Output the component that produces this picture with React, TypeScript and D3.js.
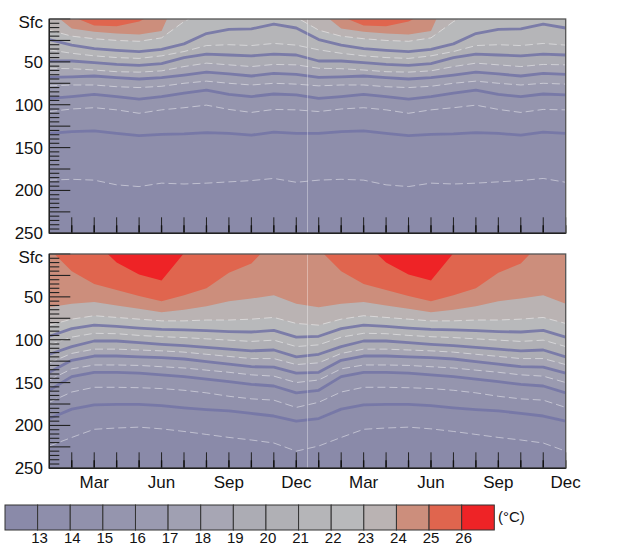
import React from "react";
import * as d3 from "d3";

// isotherm levels (°C) and the colour of each band (below 13 ... above 26)
const levels = [13, 14, 15, 16, 17, 18, 19, 20, 21, 22, 23, 24, 25, 26];
const bandColors = [
  "#8a8aa9", "#8e8eab", "#9191ac", "#9595ae", "#9a9ab0", "#a0a0b2", "#a7a6b4",
  "#acacb4", "#b0b0b5", "#b5b5b8", "#b8b9bb", "#bab3b3", "#cc8e7c", "#e0654e", "#ee2326",
];
const depthTicks = [0, 50, 100, 150, 200, 250];
const monthLabels = ["Mar", "Jun", "Sep", "Dec", "Mar", "Jun", "Sep", "Dec"];
const monthLabelIdx = [2, 5, 8, 11, 14, 17, 20, 23];

// depth (m) of each isotherm, Jan..Dec (negative = above the surface)
const upperDepths = [
  [188, 187, 188, 193.5, 195.5, 191.5, 192.5, 191.5, 190, 188.5, 186, 190.5],
  [133.5, 131.5, 130.5, 133.5, 136, 134.5, 134, 132.5, 133.5, 135.5, 132, 133.5],
  [108, 105, 103.5, 106, 110, 106, 103.5, 100.5, 105.5, 109, 105.5, 106],
  [92.5, 90.5, 88, 90.5, 93.5, 90.5, 86.5, 83, 88, 90.5, 87.5, 88.5],
  [78, 77, 77, 79, 80, 78.5, 75, 72.5, 75, 77, 75, 76],
  [68, 67.5, 66.5, 68.5, 70, 68.5, 65.5, 62, 64, 66.5, 63.5, 64.5],
  [57.5, 58, 59.5, 61.5, 62, 60.5, 55.5, 51.5, 53.5, 55.5, 53, 53.5],
  [49, 49, 51, 53, 54, 52, 45, 41, 42, 43, 41, 42],
  [36, 40, 43, 45, 46, 43, 38, 31, 30, 31, 28.5, 30.5],
  [24, 30.5, 34.5, 36.5, 38, 35.5, 29, 17, 12, 11.5, 6, 10.5],
  [13, 20, 23, 25, 26, 22, 3, -10, -15, -15, -15, -2],
  [-10, 11, 15, 17, 18, 14, -44, -50, -50, -50, -50, -30],
  [-20, -3, 7.5, 8.5, 3, -10, -30, -40, -40, -40, -40, -30],
  [-80, -80, -80, -80, -80, -80, -80, -80, -80, -80, -80, -80],
];
const lowerDepths = [
  [224, 214, 204.5, 203, 202, 204, 207, 210.5, 214, 217, 220.5, 230],
  [192, 181, 176, 175.5, 175.5, 177, 179.5, 181.5, 183, 186, 189, 195],
  [173, 161, 155.5, 155.5, 156, 157, 159, 162, 166, 169, 170.5, 179],
  [159, 143, 138, 138, 139, 141, 143, 146, 149, 152, 154, 162],
  [147, 134, 129.5, 129.5, 130, 131.5, 133, 135.5, 138, 141, 142.5, 150],
  [138, 124, 119, 119, 120, 121, 122.5, 125.5, 128.5, 131.5, 132, 139],
  [127, 116, 111, 111, 112, 113, 114.5, 117, 119.5, 122, 122, 129],
  [117, 108, 101.5, 101.5, 103.5, 105.5, 107, 109, 111, 113, 112, 120],
  [106, 97, 92.5, 93, 95, 96.5, 97.5, 99, 100.5, 102, 100.5, 108],
  [96, 87, 83, 84.5, 86.5, 88, 88.5, 89.5, 90.5, 91, 89, 97],
  [83, 76, 72, 74, 76, 78, 78, 77, 77, 76, 74, 81],
  [62, 58, 56, 60, 64, 68, 65, 61, 55, 52, 48, 58],
  [-6, 20, 35, 42, 49, 55, 48, 40, 22, 11, -16, -28],
  [-60, -40, -15, 10, 24, 31, -1, -30, -50, -60, -60, -60],
];

const left = 49.3;
const right = 565.7;
const panelH = 214.3;
const font = "'Liberation Sans', Arial, sans-serif";

const Panel = ({ top, depths, id, months }) => {
  const x = d3.scaleLinear().domain([0, 23]).range([left, right]);
  const y = d3.scaleLinear().domain([0, 250]).range([top, top + panelH]);
  const series = (row) => d3.range(24).map((i) => [i, row[i % 12]]);
  const area = d3
    .area()
    .x((d) => x(d[0]))
    .y0(y(-150))
    .y1((d) => y(d[1]));
  const line = d3
    .line()
    .x((d) => x(d[0]))
    .y((d) => y(d[1]));
  const bottom = y(250);

  return (
    <g>
      <defs>
        <clipPath id={id}>
          <rect x={left} y={top} width={right - left} height={panelH} />
        </clipPath>
      </defs>
      <g clipPath={`url(#${id})`}>
        <rect x={left} y={top} width={right - left} height={panelH} fill={bandColors[0]} />
        {levels.map((lv, k) => (
          <path key={lv} d={area(series(depths[k]))} fill={bandColors[k + 1]} />
        ))}
        {levels
          .filter((lv) => lv <= 23)
          .map((lv) => {
            const k = levels.indexOf(lv);
            return lv % 2 === 0 ? (
              <path
                key={"l" + lv}
                d={line(series(depths[k]))}
                fill="none"
                stroke="#7475a6"
                strokeWidth={2.8}
                strokeOpacity={0.9}
                strokeLinejoin="round"
              />
            ) : (
              <path
                key={"l" + lv}
                d={line(series(depths[k]))}
                fill="none"
                stroke="#ffffff"
                strokeWidth={1}
                strokeOpacity={0.45}
                strokeDasharray="8 4"
              />
            );
          })}
        <line x1={x(11.5)} x2={x(11.5)} y1={top} y2={bottom} stroke="#ffffff" strokeOpacity={0.35} />
      </g>
      {d3.range(1, 24).map((i) => (
        <g key={"xt" + i}>
          <line x1={x(i)} x2={x(i)} y1={bottom} y2={bottom - 16} stroke="#222" strokeWidth={1} />
          <line x1={x(i)} x2={x(i)} y1={bottom} y2={bottom - 8} stroke="#111" strokeWidth={1.4} />
        </g>
      ))}
      {d3.range(0, 251, 5).map((dp) => (
        <line
          key={"yt" + dp}
          x1={left}
          x2={left + (dp % 25 === 0 ? 21 : 10)}
          y1={y(dp)}
          y2={y(dp)}
          stroke="#222"
          strokeWidth={1.1}
        />
      ))}
      <rect x={left} y={top} width={right - left} height={panelH} fill="none" stroke="#555" strokeWidth={1.3} />
      <line x1={left} x2={left} y1={top} y2={bottom} stroke="#222" strokeWidth={1.4} />
      <line x1={left} x2={right} y1={bottom} y2={bottom} stroke="#222" strokeWidth={1.4} />
      {depthTicks.map((dp) => (
        <text
          key={"yl" + dp}
          x={43}
          y={y(dp) + (dp === 0 ? 3 : 0)}
          dy="0.35em"
          textAnchor="end"
          fontFamily={font}
          fontSize={17}
          fill="#111"
        >
          {dp === 0 ? "Sfc" : dp}
        </text>
      ))}
      {months &&
        monthLabelIdx.map((m, i) => (
          <text
            key={"ml" + i}
            x={x(m)}
            y={bottom + 20}
            textAnchor="middle"
            fontFamily={font}
            fontSize={17}
            fill="#111"
          >
            {monthLabels[i]}
          </text>
        ))}
    </g>
  );
};

const ColorBar = () => {
  const cx = d3.scaleLinear().domain([0, 15]).range([5, 494.3]);
  const y0 = 505;
  const h = 25;
  return (
    <g>
      {bandColors.map((c, i) => (
        <rect key={i} x={cx(i)} y={y0} width={cx(i + 1) - cx(i)} height={h} fill={c} stroke="#333" strokeWidth={1} />
      ))}
      {levels.map((lv, i) => (
        <text
          key={lv}
          x={cx(i + 1) + 2}
          y={543}
          textAnchor="middle"
          fontFamily={font}
          fontSize={15}
          fill="#111"
        >
          {lv}
        </text>
      ))}
      <text x={498} y={522} fontFamily={font} fontSize={15} fill="#111">
        (°C)
      </text>
    </g>
  );
};

export default function App() {
  return (
    <svg
      width={631}
      height={548}
      style={{ position: "absolute", left: 0, top: 0, background: "#fff" }}
    >
      <Panel top={19} depths={upperDepths} id="clipTop" months={false} />
      <Panel top={254} depths={lowerDepths} id="clipBottom" months={true} />
      <ColorBar />
    </svg>
  );
}
